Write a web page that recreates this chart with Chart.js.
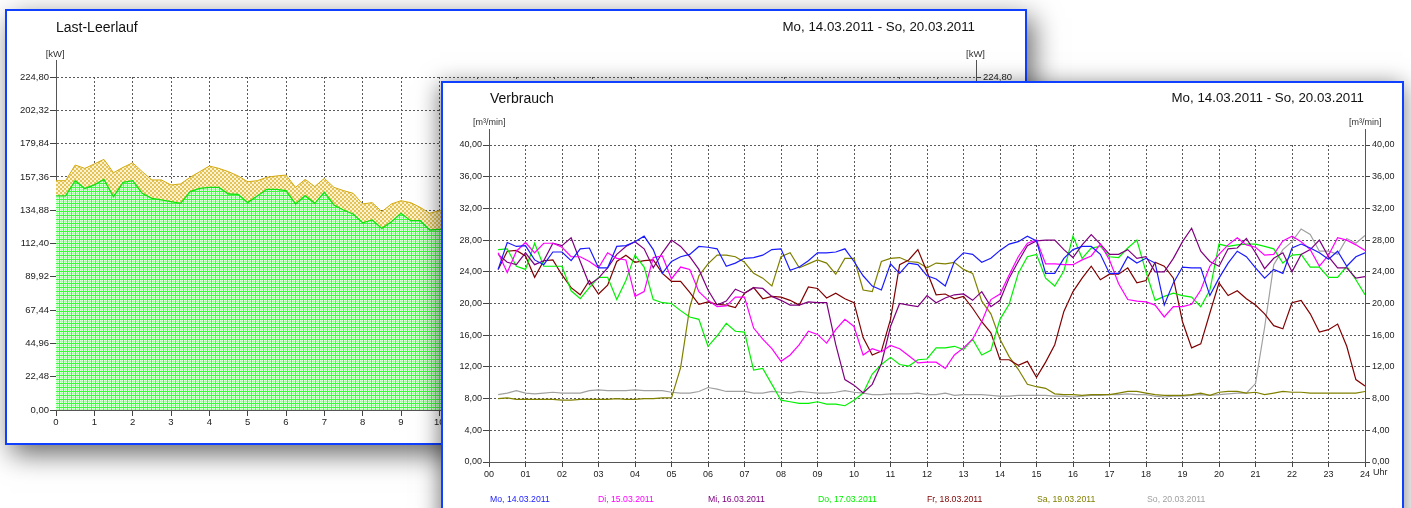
<!DOCTYPE html>
<html><head><meta charset="utf-8">
<script src="https://cdn.jsdelivr.net/npm/chart.js@4"></script>
<style>
html,body{margin:0;padding:0;background:#fff;width:1411px;height:508px;overflow:hidden;font-family:'Liberation Sans',Arial,sans-serif;}
.win{position:absolute;background:#fff;border:2px solid #1040ff;box-sizing:border-box;}
#w1{left:5px;top:9px;width:1022px;height:436px;box-shadow:6px 9px 26px rgba(0,0,0,0.6);z-index:1;}
#w2{left:441px;top:81px;width:963px;height:460px;box-shadow:-1px 4px 22px rgba(0,0,0,0.55);z-index:2;}
.t{position:absolute;white-space:nowrap;color:#111;line-height:1;}
canvas{position:absolute;left:0;top:0;}
</style></head>
<body>
<div class="win" id="w1">
  <canvas id="c1" width="1018" height="432"></canvas>
  <div class="t" style="left:49px;top:8.5px;font-size:14px;">Last-Leerlauf</div>
  <div class="t" style="right:50px;top:8.8px;font-size:13.3px;">Mo, 14.03.2011 - So, 20.03.2011</div>
  <div class="t" style="left:38.7px;top:37.8px;font-size:9.5px;color:#333;">[kW]</div>
  <div class="t" style="left:959px;top:37.8px;font-size:9.5px;color:#333;">[kW]</div>
</div>
<div class="win" id="w2">
  <canvas id="c2" width="959" height="425"></canvas>
  <div class="t" style="left:47px;top:7.9px;font-size:14px;">Verbrauch</div>
  <div class="t" style="right:38px;top:7.5px;font-size:13.3px;">Mo, 14.03.2011 - So, 20.03.2011</div>
  <div class="t" style="left:30px;top:34.7px;font-size:9px;color:#333;">[m³/min]</div>
  <div class="t" style="left:906px;top:34.7px;font-size:9px;color:#333;">[m³/min]</div>
  <div class="t" style="left:930px;top:385.4px;font-size:9px;color:#222;">Uhr</div>
  <div id="legend"></div>
</div>
<script>
// ---------- Data: Last-Leerlauf (15-minute steps from 0) ----------
const loadStep = 0.25;
const lastValues = [144.5,144.5,154.8,149.6,152.0,155.7,144.0,153.7,154.8,146.3,142.9,141.8,140.6,139.5,147.4,149.6,150.3,150.3,145.8,145.6,140.0,144.5,149.0,149.0,148.1,139.1,144.7,139.5,147.0,138.4,135.0,132.3,126.4,128.3,122.6,127.1,132.8,127.8,127.8,121.5,122.0,122.0];
const leerlaufValues = [10.3,10.3,10.6,13.5,14.1,13.5,16.2,10.1,12.1,14.6,12.4,13.5,11.3,13.1,9.7,11.3,14.4,12.8,15.1,12.4,14.1,10.3,8.1,9.0,10.5,11.2,11.0,11.3,9.4,11.9,13.1,14.0,12.7,11.7,11.3,12.0,8.5,12.2,9.0,11.3,12.6,12.0];
const loadXTicks = [0,1,2,3,4,5,6,7,8,9,10,11,12,13,14,15,16,17,18,19,20,21,22,23,24];
const loadYTicks = [0,22.48,44.96,67.44,89.92,112.4,134.88,157.36,179.84,202.32,224.8];
const loadYLabels = ['0,00','22,48','44,96','67,44','89,92','112,40','134,88','157,36','179,84','202,32','224,80'];

// ---------- Data: Verbrauch (15-minute steps, 00:15 .. 24:00) ----------
const flowStep = 0.25;
const seriesNames = ['Mo, 14.03.2011','Di, 15.03.2011','Mi, 16.03.2011','Do, 17.03.2011','Fr, 18.03.2011','Sa, 19.03.2011','So, 20.03.2011'];
const seriesColors = ['#1a1aff','#ff00ff','#800080','#00f000','#800000','#808000','#a0a0a0'];
const mo = [24.3,27.7,27.2,27.3,25.5,24.9,26.5,26.5,25.4,26.9,27.0,24.5,24.5,27.2,27.3,27.8,28.5,26.8,23.8,25.3,25.9,26.2,27.2,27.1,
            26.9,24.7,25.1,25.7,25.8,26.1,26.8,26.9,24.2,24.6,25.4,26.4,26.4,26.5,26.9,25.3,23.5,22.2,21.7,25.0,23.8,25.1,24.9,23.5,
            23.1,22.2,25.3,26.4,26.2,25.2,25.7,26.7,27.5,27.8,28.5,27.9,23.8,23.8,25.7,26.8,27.2,27.2,26.2,23.8,23.8,25.9,25.1,25.7,
            25.1,19.8,22.6,24.6,24.5,24.5,21.0,23.2,25.1,26.6,25.9,24.5,23.2,24.3,23.8,27.0,27.5,27.0,26.4,25.6,26.6,24.7,25.9,26.4];
const di = [26.4,23.9,26.6,27.7,26.4,27.6,27.6,27.1,25.9,25.9,25.3,24.5,26.4,25.7,25.5,20.9,21.5,25.8,26.0,23.1,24.6,24.3,21.5,20.4,
            19.6,19.7,20.8,20.8,16.9,15.5,14.3,12.7,13.5,14.8,16.5,16.1,15.0,16.7,18.0,17.1,13.5,14.3,13.9,14.7,14.3,13.4,12.5,12.6,
            12.6,11.8,13.5,14.4,15.5,17.7,20.5,21.2,23.6,25.9,27.6,28.0,25.0,25.0,24.9,24.9,25.5,26.0,27.5,25.5,22.5,20.5,20.3,20.2,
            19.8,18.3,19.6,19.6,19.9,21.7,24.7,26.2,27.4,28.3,27.4,27.1,26.1,26.2,27.9,28.5,27.8,26.8,24.7,26.1,28.3,28.0,27.4,26.7];
const mi = [26.2,25.2,24.9,26.4,24.9,25.4,27.6,27.3,28.3,25.3,22.4,23.2,24.5,26.2,27.2,27.8,26.9,24.5,26.4,28.0,27.2,25.9,24.3,21.7,
            19.8,20.3,21.8,21.3,22.0,21.9,20.9,20.4,19.8,19.8,20.2,20.1,20.1,14.8,10.4,9.7,8.7,9.8,12.4,17.1,20.0,19.8,19.6,21.0,
            20.1,20.7,21.1,21.2,20.4,21.5,19.6,20.4,23.2,25.3,27.3,27.9,28.0,28.0,26.8,25.8,27.4,28.7,27.5,26.2,26.2,26.8,25.7,25.9,
            24.0,24.0,25.7,27.8,29.5,26.6,25.3,24.7,26.9,27.0,28.2,26.4,24.4,25.7,26.4,24.0,26.2,26.8,28.0,25.9,24.5,24.5,23.2,23.4];
const don = [26.8,26.9,24.7,24.3,27.6,24.7,24.7,24.7,21.6,20.6,22.0,23.3,23.3,20.5,22.9,26.1,24.6,20.5,20.1,20.0,19.1,18.3,18.0,14.6,
            15.9,17.5,16.5,16.4,11.6,11.8,9.8,7.8,7.6,7.4,7.4,7.6,7.3,7.3,7.1,7.8,8.7,11.1,12.3,13.2,12.3,12.1,12.9,13.0,
            14.4,14.4,14.6,14.2,15.5,13.5,14.1,18.0,19.9,23.8,25.9,26.2,23.2,22.2,24.1,28.5,25.7,27.0,27.2,25.9,25.8,27.0,28.0,24.0,
            20.4,20.9,21.3,21.0,20.8,19.6,21.7,27.5,27.2,27.4,27.5,27.5,27.2,26.9,25.1,26.1,26.2,24.6,24.6,23.3,23.3,24.7,23.0,21.1];
const fr = [24.3,26.6,26.7,26.0,23.3,25.4,25.5,23.6,22.0,21.1,22.9,21.2,22.3,25.3,26.1,25.2,25.4,25.5,23.8,22.8,22.8,21.4,19.9,20.2,
            19.9,19.8,19.5,21.3,22.0,20.6,20.9,20.8,20.4,19.8,22.1,21.9,20.7,21.3,20.6,20.1,15.7,13.5,14.0,18.0,24.9,25.5,26.8,24.0,
            21.1,21.2,20.6,20.9,19.4,17.7,16.3,12.9,12.9,12.2,12.7,10.7,12.6,14.8,19.0,21.5,23.2,24.7,23.0,23.7,23.7,24.5,22.6,22.9,
            25.2,24.7,23.2,17.7,14.4,14.9,18.8,22.6,21.0,21.6,20.6,19.8,18.7,17.2,16.8,20.1,20.4,18.7,16.4,16.7,17.4,14.6,10.4,9.6];
const sa = [8.0,8.1,7.9,7.9,7.9,7.9,7.9,7.8,7.8,7.9,7.9,7.9,7.9,8.0,7.9,7.9,8.0,8.0,8.1,8.1,11.9,19.5,23.5,25.0,
            26.1,26.1,25.9,25.2,23.8,23.2,22.2,25.9,26.4,24.5,25.0,25.5,25.1,23.7,25.7,25.7,21.7,21.5,25.3,25.7,25.8,25.3,25.2,24.5,
            25.1,25.0,25.2,24.3,23.8,20.3,18.7,15.5,13.3,11.7,9.8,9.5,9.3,8.6,8.5,8.5,8.4,8.5,8.5,8.5,8.7,8.9,8.9,8.7,
            8.5,8.4,8.4,8.4,8.5,8.7,8.4,8.8,8.9,8.9,8.7,8.8,8.5,8.7,8.9,8.8,8.8,8.7,8.7,8.7,8.7,8.7,8.7,8.9];
const so = [8.5,8.7,9.0,8.7,8.6,8.7,8.8,8.7,8.7,8.7,9.0,9.1,9.0,9.0,9.0,9.1,9.0,9.0,9.0,8.8,8.7,8.7,8.9,9.4,
            9.2,8.9,8.9,8.9,8.7,8.7,8.9,8.8,8.7,8.9,8.8,8.7,8.7,8.8,9.0,8.8,8.7,8.5,8.5,8.6,8.6,8.6,8.7,8.5,
            8.5,8.7,8.4,8.5,8.5,8.5,8.4,8.3,8.3,8.4,8.4,8.4,8.4,8.3,8.3,8.2,8.3,8.4,8.4,8.5,8.5,8.6,8.5,8.5,
            8.3,8.2,8.3,8.3,8.4,8.5,8.4,8.5,8.6,8.7,8.7,9.9,17.0,24.9,26.8,27.8,29.4,28.7,26.6,26.6,26.2,28.2,27.6,28.6];
const flowSeries = [mo, di, mi, don, fr, sa, so];
const flowXTicks = [0,1,2,3,4,5,6,7,8,9,10,11,12,13,14,15,16,17,18,19,20,21,22,23,24];
const flowXLabels = ['00','01','02','03','04','05','06','07','08','09','10','11','12','13','14','15','16','17','18','19','20','21','22','23','24'];
const flowYTicks = [0,4,8,12,16,20,24,28,32,36,40];
const flowYLabels = ['0,00','4,00','8,00','12,00','16,00','20,00','24,00','28,00','32,00','36,00','40,00'];

// ---------- helpers ----------
const FONT = "'Liberation Sans', Arial, sans-serif";
function makePattern(size, draw){
  const c = document.createElement('canvas'); c.width = c.height = size;
  const g = c.getContext('2d'); draw(g);
  return document.createElement('canvas').getContext('2d').createPattern(c, 'repeat');
}
// green square-grid hatch
const gridPattern = makePattern(4, g => {
  g.fillStyle = '#e4ffe4'; g.fillRect(0,0,4,4);
  g.fillStyle = '#b0ffb0'; g.fillRect(0,2,4,1); g.fillRect(2,0,1,4);
  g.fillStyle = '#3cff3c'; g.fillRect(0,0,4,1); g.fillRect(0,0,1,4);
});
// gold diagonal cross-hatch
const crossPattern = makePattern(4, g => {
  g.fillStyle = '#fdf3d0'; g.fillRect(0,0,4,4);
  g.fillStyle = '#e4c458';
  for (let i=0;i<4;i++){ g.fillRect(i,i,1,1); g.fillRect(3-i,i,1,1); }
});

function axisExt(ext){
  return { id:'axisExt', afterDraw(chart){
    const a = chart.chartArea, ctx = chart.ctx;
    ctx.save(); ctx.strokeStyle = '#555'; ctx.lineWidth = 1; ctx.beginPath();
    ctx.moveTo(Math.round(a.left)+0.5, a.top-ext); ctx.lineTo(Math.round(a.left)+0.5, a.top);
    ctx.moveTo(Math.round(a.right)+0.5, a.top-ext); ctx.lineTo(Math.round(a.right)+0.5, a.top);
    ctx.stroke(); ctx.restore();
  }};
}
function yAxis(pos, ticks, labels, width, size, onArea, tl, pad){
  return {
    type:'linear', position:pos, min:ticks[0], max:ticks[ticks.length-1],
    afterBuildTicks: s => { s.ticks = ticks.map(v => ({value:v})); },
    afterFit: s => { s.width = width; s.paddingTop = 0; s.paddingBottom = 0; },
    ticks:{ callback:(v,i)=>labels[i], font:{family:FONT,size:size}, color:'#222', padding:pad, autoSkip:false },
    grid:{ color:'#5a5a5a', lineWidth:1, drawOnChartArea:onArea, tickLength:tl, tickColor:'#444' },
    border:{ display:true, color:'#555', width:1, dash:[2,2] }
  };
}
function xAxis(ticks, labels, height, size, tl, pad){
  return {
    type:'linear', position:'bottom', min:ticks[0], max:ticks[ticks.length-1],
    afterBuildTicks: s => { s.ticks = ticks.map(v => ({value:v})); },
    afterFit: s => { s.height = height; s.paddingLeft = 0; s.paddingRight = 0; },
    ticks:{ callback:(v,i)=>labels[i], font:{family:FONT,size:size}, color:'#222', padding:pad, maxRotation:0, autoSkip:false },
    grid:{ color:'#5a5a5a', lineWidth:1, tickLength:tl, tickColor:'#444' },
    border:{ display:true, color:'#555', width:1, dash:[2,2] }
  };
}
const common = { responsive:false, animation:false, events:[], devicePixelRatio:1,
  plugins:{ legend:{display:false}, tooltip:{enabled:false} } };

// ---------- Chart 1: Last-Leerlauf ----------
const lastPts = lastValues.map((v,i)=>({x:i*loadStep, y:v}));
const totalPts = lastValues.map((v,i)=>({x:i*loadStep, y:v + leerlaufValues[i]}));
new Chart(document.getElementById('c1'), {
  type:'line',
  data:{ datasets:[
    { label:'Last', data:lastPts, borderColor:'#10e010', borderWidth:1.3, backgroundColor:gridPattern, fill:'origin', pointRadius:0, tension:0 },
    { label:'Leerlauf', data:totalPts, borderColor:'#d4aa10', borderWidth:1, backgroundColor:crossPattern, fill:'-1', pointRadius:0, tension:0 }
  ]},
  options: Object.assign({}, common, {
    layout:{ padding:{ top:66, left:0, right:0, bottom:0 } },
    scales:{
      x: xAxis(loadXTicks, loadXTicks.map(String), 33, 9.5, 6, 1),
      y: yAxis('left', loadYTicks, loadYLabels, 49, 9.5, true, 6, 1),
      y2: yAxis('right', loadYTicks, loadYLabels, 49, 9.5, false, 5, 2)
    }
  }),
  plugins:[axisExt(17)]
});

// ---------- Chart 2: Verbrauch ----------
new Chart(document.getElementById('c2'), {
  type:'line',
  data:{ datasets: flowSeries.map((vals, s) => ({
    label: seriesNames[s],
    data: vals.map((v,i)=>({x:(i+1)*flowStep, y:v})),
    borderColor: seriesColors[s], borderWidth:1.2, pointRadius:0, fill:false, tension:0
  }))},
  options: Object.assign({}, common, {
    layout:{ padding:{ top:62, left:0, right:0, bottom:0 } },
    scales:{
      x: xAxis(flowXTicks, flowXLabels, 46, 9, 5, 2),
      y: yAxis('left', flowYTicks, flowYLabels, 46, 9, true, 6, 1),
      y2: yAxis('right', flowYTicks, flowYLabels, 37, 9, false, 5, 2)
    }
  }),
  plugins:[axisExt(16)]
});

// legend (coloured text only)
const legendX = [47,155,265,375,484,594,704];
const lg = document.getElementById('legend');
seriesNames.forEach((n,i)=>{
  const d = document.createElement('div'); d.className='t'; d.textContent = n;
  d.style.cssText = `left:${legendX[i]}px;top:412px;font-size:8.7px;color:${seriesColors[i]};`;
  lg.appendChild(d);
});
</script>
</body></html>
